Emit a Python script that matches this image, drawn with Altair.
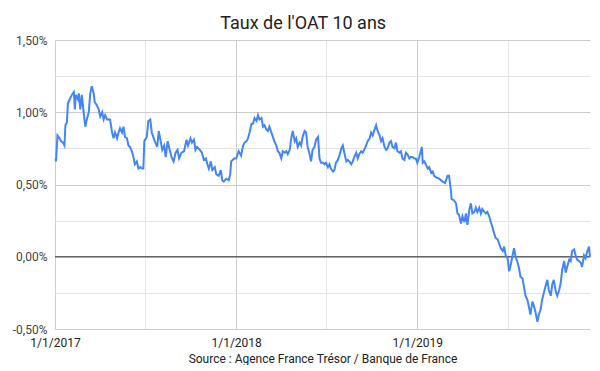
import altair as alt
import pandas as pd

days_2017 = [
    1, 2, 5, 9, 12, 16, 19, 21, 24, 26,
    31, 34, 38, 40, 42, 46, 48, 51, 54, 58,
    61, 64, 68, 71, 74, 78, 80, 84, 88, 91,
    95, 98, 101, 105, 111, 115, 118, 121, 125, 128,
    131, 135, 138, 141, 145, 148, 151, 155, 158, 161,
    165, 168, 172, 175, 178, 180, 185, 188, 192, 195,
    198, 201, 206, 209, 213, 216, 220, 223, 227, 231,
    235, 239, 243, 247, 250, 255, 260, 265, 268, 273,
    276, 280, 283, 286, 292, 296, 300, 304, 307, 310,
    314, 317, 322, 325, 330, 334, 337, 340, 345, 350,
    353, 355, 361,
]
values_2017 = [
    0.68, 0.66, 0.84, 0.82, 0.80, 0.79, 0.77, 0.91, 0.93, 1.06,
    1.10, 1.12, 1.14, 1.02, 1.12, 1.09, 1.13, 1.02, 1.12, 0.99,
    0.90, 0.95, 1.00, 1.13, 1.18, 1.13, 1.07, 1.05, 1.02, 0.97,
    1.00, 0.95, 0.98, 0.95, 0.95, 0.86, 0.82, 0.86, 0.82, 0.86,
    0.89, 0.86, 0.90, 0.83, 0.82, 0.77, 0.76, 0.73, 0.69, 0.64,
    0.66, 0.61, 0.62, 0.61, 0.61, 0.80, 0.83, 0.94, 0.95, 0.86,
    0.83, 0.80, 0.76, 0.87, 0.80, 0.74, 0.77, 0.69, 0.80, 0.74,
    0.69, 0.66, 0.72, 0.74, 0.68, 0.72, 0.73, 0.81, 0.77, 0.82,
    0.79, 0.81, 0.74, 0.76, 0.74, 0.72, 0.67, 0.68, 0.64, 0.61,
    0.66, 0.60, 0.62, 0.57, 0.56, 0.60, 0.53, 0.52, 0.54, 0.53,
    0.57, 0.66, 0.68,
]
days_2018 = [
    365, 370, 375, 379, 382, 386, 389, 392, 396, 399,
    402, 406, 409, 412, 416, 419, 422, 426, 429, 432,
    436, 439, 442, 446, 449, 452, 456, 459, 463, 466,
    469, 473, 476, 479, 483, 486, 489, 493, 496, 499,
    503, 506, 509, 513, 516, 519, 523, 526, 530, 533,
    536, 540, 543, 546, 550, 553, 556, 560, 563, 566,
    570, 573, 577, 580, 583, 587, 590, 593, 597, 600,
    603, 607, 610, 613, 617, 620, 623, 627, 630, 634,
    637, 640, 644, 647, 650, 654, 657, 660, 664, 667,
    670, 674, 677, 680, 684, 687, 690, 694, 697, 700,
    704, 707, 710, 714, 717, 720, 724, 727,
]
values_2018 = [
    0.68, 0.73, 0.70, 0.77, 0.79, 0.80, 0.82, 0.86, 0.92, 0.92,
    0.96, 0.94, 0.98, 0.95, 0.96, 0.90, 0.91, 0.88, 0.87, 0.90,
    0.86, 0.83, 0.80, 0.77, 0.73, 0.72, 0.68, 0.73, 0.72, 0.73,
    0.71, 0.74, 0.82, 0.87, 0.80, 0.82, 0.76, 0.79, 0.77, 0.83,
    0.87, 0.86, 0.76, 0.71, 0.66, 0.74, 0.76, 0.81, 0.83, 0.68,
    0.65, 0.65, 0.64, 0.65, 0.62, 0.64, 0.61, 0.59, 0.60, 0.65,
    0.67, 0.70, 0.75, 0.77, 0.72, 0.66, 0.67, 0.66, 0.64, 0.66,
    0.69, 0.72, 0.68, 0.71, 0.73, 0.72, 0.74, 0.77, 0.80, 0.82,
    0.86, 0.84, 0.88, 0.91, 0.87, 0.84, 0.80, 0.82, 0.76, 0.74,
    0.75, 0.79, 0.80, 0.76, 0.75, 0.79, 0.73, 0.72, 0.73, 0.68,
    0.67, 0.72, 0.71, 0.68, 0.69, 0.69, 0.68, 0.68,
]
days_2019 = [
    730, 734, 739, 741, 744, 747, 751, 754, 758, 761,
    764, 768, 774, 781, 786, 791, 794, 798, 799, 804,
    808, 811, 814, 818, 821, 825, 828, 831, 835, 838,
    841, 845, 848, 851, 855, 858, 861, 865, 868, 871,
    875, 878, 881, 885, 888, 892, 895, 898, 902, 905,
    908, 912, 915, 918, 922, 925, 928, 932, 935, 938,
    942, 945, 948, 952, 955, 958, 962, 965, 968, 972,
    975, 978, 982, 985, 988, 992, 995, 999, 1002, 1005,
    1009, 1012, 1016, 1019, 1022, 1026, 1029, 1032, 1036, 1039,
    1042, 1046, 1049, 1052, 1056, 1059, 1062, 1066, 1069, 1072,
    1076, 1078,
]
values_2019 = [
    0.65, 0.69, 0.76, 0.65, 0.66, 0.64, 0.61, 0.62, 0.58, 0.59,
    0.56, 0.55, 0.54, 0.52, 0.51, 0.56, 0.56, 0.45, 0.40, 0.39,
    0.37, 0.30, 0.29, 0.23, 0.28, 0.24, 0.30, 0.22, 0.33, 0.37,
    0.30, 0.31, 0.34, 0.31, 0.34, 0.30, 0.33, 0.31, 0.30, 0.31,
    0.28, 0.24, 0.21, 0.16, 0.13, 0.12, 0.09, 0.06, 0.04, 0.07,
    0.01, -0.01, -0.10, -0.06, 0.01, 0.06, 0.00, -0.04, -0.08, -0.14,
    -0.15, -0.21, -0.27, -0.30, -0.35, -0.40, -0.31, -0.34, -0.38, -0.45,
    -0.40, -0.37, -0.29, -0.25, -0.21, -0.16, -0.23, -0.27, -0.19, -0.16,
    -0.24, -0.27, -0.23, -0.18, -0.09, -0.03, -0.11, -0.07, -0.02, -0.03,
    0.04, 0.05, 0.01, -0.02, -0.03, -0.04, -0.07, 0.01, -0.01, 0.03,
    0.07, 0.00,
]

y_ticks = [-0.5, -0.25, 0.0, 0.25, 0.5, 0.75, 1.0, 1.25, 1.5]
title_text = "Taux de l'OAT 10 ans"
source_text = "Source : Agence France Trésor / Banque de France"

days = days_2017 + days_2018 + days_2019
vals = values_2017 + values_2018 + values_2019
assert len(days) == len(vals)
dates = pd.Timestamp("2017-01-01") + pd.to_timedelta(days, unit="D")
df = pd.DataFrame({"date": dates, "taux": vals})

x_ticks = [
    alt.DateTime(year=2017, month=1, date=1),
    alt.DateTime(year=2017, month=7, date=2),
    alt.DateTime(year=2018, month=1, date=1),
    alt.DateTime(year=2018, month=7, date=2),
    alt.DateTime(year=2019, month=1, date=1),
    alt.DateTime(year=2019, month=7, date=2),
]

FONT = "Roboto"

x_enc = alt.X(
    "date:T",
    scale=alt.Scale(domain=[alt.DateTime(year=2017, month=1, date=1),
                            alt.DateTime(year=2019, month=12, date=15)]),
    axis=alt.Axis(
        values=x_ticks,
        labelExpr="month(datum.value) == 0 ? '1/1/' + year(datum.value) : ''",
        ticks=False,
        domain=False,
        gridColor={"condition": {"test": "month(datum.value) == 0", "value": "#cccccc"},
                   "value": "#e4e4e4"},
        labelFont=FONT, labelFontSize=12, labelColor="#222222", labelPadding=8,
        labelFlush=False,
        title=source_text, titleFont=FONT, titleFontSize=12,
        titleFontWeight="normal", titleColor="#222222", titlePadding=5,
    ),
)

y_axis = alt.Axis(
    values=y_ticks,
    labelExpr="abs(datum.value*2 - round(datum.value*2)) < 0.01 ? "
              "(datum.value < 0 ? '-' : '') + replace(format(abs(datum.value), '.2f'), '.', ',') + '%' : ''",
    ticks=False,
    domain=False,
    gridColor={"condition": {"test": "abs(datum.value*2 - round(datum.value*2)) < 0.01",
                             "value": "#cccccc"},
               "value": "#e4e4e4"},
    labelFont=FONT, labelFontSize=12, labelColor="#444444", labelPadding=8,
    title=None,
)
y_scale = alt.Scale(domain=[-0.5, 1.5], nice=False, zero=False)

zero_rule = alt.Chart(pd.DataFrame({"y": [0.0]})).mark_rule(
    color="#333333", strokeWidth=1
).encode(y=alt.Y("y:Q", scale=y_scale, axis=y_axis))

line = alt.Chart(df).mark_line(color="#4285F4", strokeWidth=2).encode(
    x=x_enc,
    y=alt.Y("taux:Q", scale=y_scale, axis=y_axis),
)

chart = alt.layer(zero_rule, line).properties(
    width=535,
    height=289,
    title=alt.TitleParams(
        title_text, font=FONT, fontSize=18, fontWeight="normal",
        color="#222222", anchor="middle", frame="bounds", offset=1,
    ),
    autosize=alt.AutoSizeParams(type="none"),
    padding={"left": 47, "top": 32, "right": 2, "bottom": 36},
    background="white",
).configure_view(stroke=None)

chart.save("out.html", embed_options={"renderer": "svg", "actions": False})
